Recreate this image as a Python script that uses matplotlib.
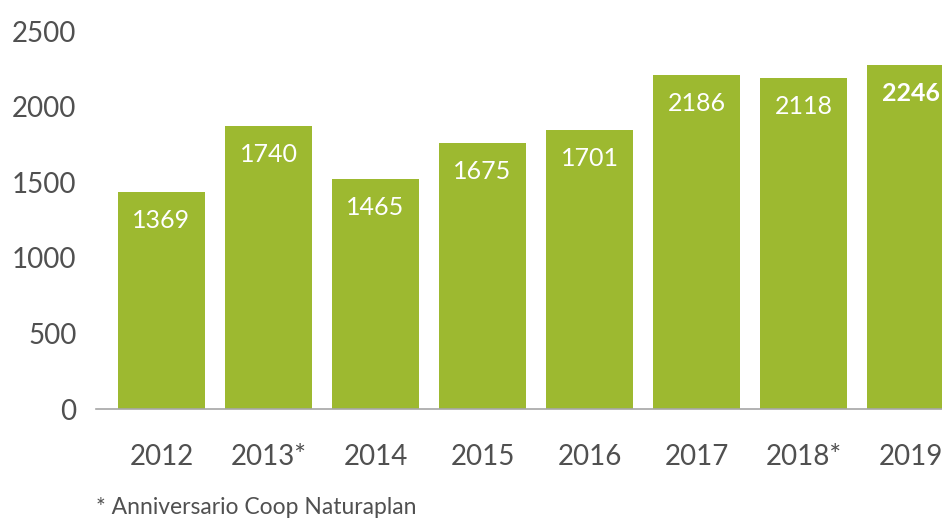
import matplotlib.pyplot as plt
import numpy as np

# --- Données ---
annees = ["2012", "2013*", "2014", "2015", "2016", "2017", "2018*", "2019"]
# hauteurs des barres telles que dessinées dans l'original
hauteurs = [1435, 1872, 1521, 1759, 1845, 2209, 2189, 2275]
# valeurs affichées dans les barres
etiquettes = [1369, 1740, 1465, 1675, 1701, 2186, 2118, 2246]
graduations_y = [0, 500, 1000, 1500, 2000, 2500]

vert = "#9db930"
gris_texte = "#505050"

plt.rcParams['font.family'] = ['Lato', 'DejaVu Sans']

fig = plt.figure(figsize=(9.42, 5.21), dpi=100)
ax = fig.add_axes([96 / 942, 1 - 409 / 521, 846 / 942, 378 / 521])

x = np.arange(len(annees))
barres = ax.bar(x, hauteurs, width=0.813, color=vert, zorder=2)

# --- Étiquettes dans les barres ---
for i, (b, val) in enumerate(zip(barres, etiquettes)):
    poids = 'bold' if i == len(etiquettes) - 1 else 'normal'
    ax.annotate(str(val), (b.get_x() + b.get_width() / 2, b.get_height()),
                xytext=(0, -20.5), textcoords='offset points',
                ha='center', va='center', color='white',
                fontsize=18, fontweight=poids, annotation_clip=False)

# --- Axes ---
ax.set_xlim(-0.612, 7.294)
ax.set_ylim(0, 2500)
ax.set_yticks(graduations_y)
ax.set_xticks(x)
ax.set_xticklabels(annees)
ax.tick_params(axis='y', length=0, pad=14, labelsize=20, labelcolor=gris_texte)
ax.tick_params(axis='x', length=0, pad=25, labelsize=20, labelcolor=gris_texte)

for cote in ['top', 'right', 'left']:
    ax.spines[cote].set_visible(False)
ax.spines['bottom'].set_color('#a6a6a6')
ax.spines['bottom'].set_linewidth(1.2)
ax.spines['bottom'].set_zorder(3)

# --- Note de bas de page ---
fig.text(96 / 942, 1 - 508 / 521, "* Anniversario Coop Naturaplan",
         ha='left', va='center', fontsize=16.5, color=gris_texte)

plt.savefig("out.png", dpi=100)
